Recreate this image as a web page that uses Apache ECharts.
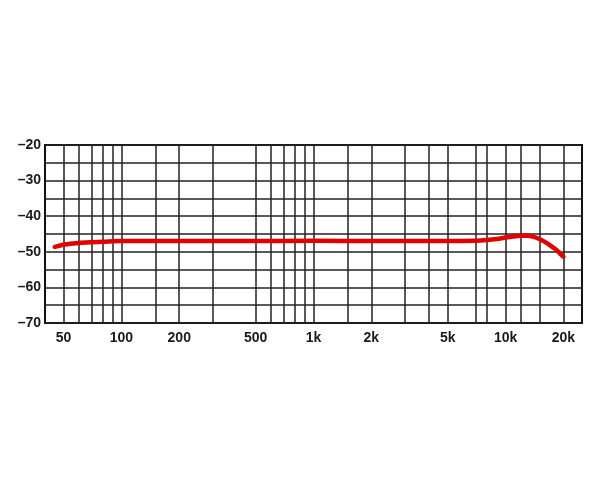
<!DOCTYPE html>
<html>
<head>
<meta charset="utf-8">
<script src="https://cdn.jsdelivr.net/npm/echarts@6/dist/echarts.min.js"></script>
<style>html,body{margin:0;padding:0;background:#fff}#c{width:600px;height:480px}</style>
</head>
<body>
<div id="c"></div>
<script>
const freqs = [45, 50, 60, 70, 80, 100, 150, 200, 500, 1000, 2000, 3000, 5000, 7000, 8000, 9000, 10000, 11000, 12000, 13000, 14000, 15000, 16000, 17000, 18000, 19000, 20000];
const levels = [-48.6, -48.0, -47.5, -47.3, -47.2, -47.0, -47.0, -47.0, -47.0, -46.9, -47.0, -47.0, -47.0, -46.9, -46.7, -46.4, -46.0, -45.7, -45.5, -45.5, -45.8, -46.4, -47.2, -48.1, -49.1, -50.2, -51.4];
const xLabelValues = [50, 100, 200, 500, 1000, 2000, 5000, 10000, 20000];
const xGridValues = [50, 60, 70, 80, 90, 100, 150, 200, 300, 500, 600, 700, 800, 900, 1000, 1500, 2000, 3000, 4000, 5000, 7000, 8000, 10000, 12000, 15000, 20000];
const yLabelValues = [-20, -30, -40, -50, -60, -70];

const chart = echarts.init(document.getElementById('c'), null, {renderer: 'canvas'});
const fmtF = v => v >= 1000 ? (v / 1000) + 'k' : String(v);
const lblFont = {color: '#1a1a1a', fontFamily: 'Liberation Sans', fontWeight: 'bold', fontSize: 14};
chart.setOption({
  animation: false,
  grid: {left: 45, right: 18, top: 145, bottom: 157, show: true, borderColor: '#111', borderWidth: 2},
  xAxis: {
    type: 'log', logBase: 10, min: 40, max: 25000,
    axisLine: {show: false},
    axisTick: {show: false, customValues: xGridValues},
    axisLabel: Object.assign({customValues: xLabelValues, formatter: fmtF, margin: 8}, lblFont),
    splitLine: {show: true, lineStyle: {color: '#222', width: 1.5}}
  },
  yAxis: {
    type: 'value', min: -70, max: -20, interval: 5,
    axisLine: {show: false},
    axisTick: {show: false},
    axisLabel: Object.assign({formatter: v => yLabelValues.includes(v) ? String(v).replace('-', '\u2013') : '', margin: 4}, lblFont),
    splitLine: {show: true, lineStyle: {color: '#222', width: 1.5}}
  },
  series: [{
    type: 'line', smooth: 0.3, symbol: 'none',
    data: freqs.map((f, i) => [f, levels[i]]),
    lineStyle: {color: '#e00000', width: 4.5, cap: 'round', join: 'round'}
  }]
});
</script>
</body>
</html>
